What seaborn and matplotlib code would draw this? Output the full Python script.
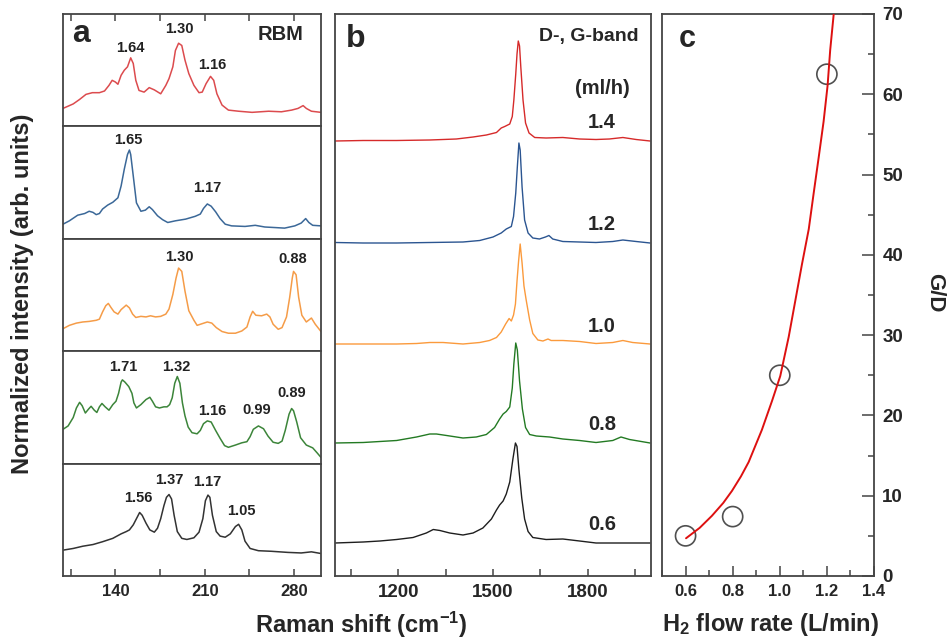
import numpy as np
import matplotlib
matplotlib.use("Agg")
import matplotlib.pyplot as plt
import seaborn as sns
from matplotlib.ticker import MultipleLocator, FormatStrFormatter

# ---- panel a : RBM spectra (shift in cm-1, intensity in arb. units) ----
rbm_red_x = [99, 107, 112, 117, 122, 127.5, 131.5, 135, 137.5, 140, 142, 144.5, 147, 149.5, 152, 154, 156, 158.5,
             162.5, 166.5, 170.5, 175.5, 179.5, 182, 185, 187, 189.5, 192, 194.5, 197.5, 201.5, 205.5, 208, 211,
             214.5, 217, 219.5, 223.5, 228.5, 236.5, 247, 260, 270, 278, 283, 287, 289.5, 293.5, 301]
rbm_red_y = [16, 20, 24, 28.5, 30, 30, 31.5, 36.5, 41, 39.5, 37.5, 45.5, 50, 53, 61, 56, 41, 32, 30.5, 34.5, 32.5,
             29, 36.5, 42.5, 53, 67.5, 74, 72, 59, 47, 36.5, 30, 30.5, 38, 44.5, 41, 29, 19, 14.5, 13.5, 12.5, 13.5,
             13, 14.5, 16, 18.5, 16, 13.5, 12.5]

rbm_blue_x = [99, 104, 110.5, 116, 119.5, 122.5, 125, 127.5, 130, 134, 138, 142, 144.5, 147, 149.5, 151, 152, 154,
              156.5, 160, 163.5, 166.5, 169, 173, 177, 181, 187, 195, 202.5, 206.5, 209, 212, 215, 218.5, 222, 226,
              231, 241.5, 249.5, 257, 265, 272.5, 280.5, 285.5, 289, 291.5, 294.5, 301]
rbm_blue_y = [13, 16, 21, 22.5, 24.5, 23.5, 21.5, 22.5, 26.5, 30, 32.5, 36.5, 47, 62, 75, 79, 75, 56, 32, 24.5,
              25.5, 28.5, 26, 20.5, 17, 14.5, 16, 17.5, 20, 22, 27, 31, 29, 24, 18, 13, 11.5, 11, 12, 10.5, 10, 9.5,
              11.5, 14, 18, 14.5, 12, 11.5]

rbm_orange_x = [99, 104, 109.5, 114.5, 119.5, 125, 127.5, 130, 132.5, 134.5, 136.5, 139, 142, 144.5, 148.5, 151,
                153.5, 156, 160, 164, 167.5, 171.5, 175.5, 179.5, 182, 185, 187.5, 189.5, 192, 194.5, 197.5, 201.5,
                204, 208, 212, 215.5, 219, 223.5, 228.5, 234, 239, 243, 245.5, 247.5, 250, 254.5, 258.5, 261,
                263.5, 267.5, 270.5, 274, 276.5, 278.5, 279.5, 281.5, 283.5, 286, 289.5, 293.5, 296.5, 301]
rbm_orange_y = [20, 23, 25, 26, 26.5, 27.5, 28.5, 35, 40.5, 42.5, 39, 35, 33, 37, 41, 38.5, 33, 30, 31, 30.5, 31.5,
                30.5, 31, 33, 37.5, 50.5, 65, 74, 71, 53.5, 36, 27.5, 23, 24.5, 26, 25, 21, 17.5, 16, 16, 18, 21.5,
                30.5, 35.5, 32, 31.5, 33, 30.5, 24, 19.5, 21, 30.5, 48, 65, 71, 68, 48, 32, 26, 29.5, 24, 17.5]

rbm_green_x = [99, 103, 107, 109.5, 112, 114, 116.5, 119, 121, 123.5, 125.5, 127.5, 129.5, 132, 135, 138, 140.5,
               142.5, 144.5, 145.5, 147.5, 150.5, 153, 154.5, 156.5, 160, 164, 167, 169, 171.5, 174.5, 178, 180.5,
               182.5, 184.5, 186.5, 188.5, 190.5, 192.5, 194.5, 197, 200, 204, 206.5, 209, 212, 215, 218.5, 222,
               225.5, 228.5, 234, 239, 243, 245.5, 248, 252, 256, 259.5, 263.5, 267.5, 270.5, 273, 276, 278,
               279.5, 282, 285, 289.5, 294.5, 298, 301]
rbm_green_y = [30.5, 33.5, 41, 49.5, 54.5, 51.5, 45, 48.5, 51, 47.5, 45.5, 50.5, 53.5, 50.5, 47.5, 52.5, 55.5,
               62.5, 72.5, 74.5, 72.5, 68.5, 62.5, 54, 49.5, 52.5, 57, 59, 55.5, 50.5, 49.5, 50.5, 50.5, 52.5, 58.5,
               71.5, 77.5, 71.5, 54, 42.5, 32.5, 27.5, 26.5, 29.5, 35.5, 38, 37, 29.5, 22.5, 16, 14.5, 16.5, 18.5,
               19.5, 24, 30.5, 33.5, 31, 24.5, 19, 18, 20, 29.5, 44, 49, 47, 37, 23, 16.5, 14, 9.5, 5.5]

rbm_black_x = [99, 107, 114.5, 122.5, 130, 138, 144.5, 148.5, 151, 154, 156.5, 159, 161, 164, 167, 170.5, 173,
               175.5, 178, 180, 182, 184, 186, 188.5, 192, 196, 201.5, 205.5, 208.5, 210.5, 212.5, 214, 216, 219,
               222, 226, 230, 234, 236.5, 239, 241.5, 245.5, 252, 262, 275, 285.5, 293.5, 301]
rbm_black_y = [23, 24.5, 26.5, 28, 30.5, 33.5, 37.5, 39.5, 41, 45.5, 51, 56.5, 54, 47, 41, 39, 42.5, 51, 62.5, 70,
               72.5, 68.5, 54, 39.5, 33.5, 32.5, 34, 39, 51, 67, 72, 70, 54, 39.5, 35.5, 34.5, 37.5, 44, 46, 41, 31,
               24.5, 22.5, 22, 21, 20.5, 21.5, 20]

# diameter labels (nm) for each RBM panel: text, shift, intensity
rbm_labels = [
    [("1.64", 152, 70), ("1.30", 190, 87), ("1.16", 216, 55)],
    [("1.65", 150, 87.5), ("1.17", 212, 45.5)],
    [("1.30", 190, 84), ("0.88", 279, 82)],
    [("1.71", 146, 86), ("1.32", 188, 86), ("1.16", 216, 47), ("0.99", 251, 47.5), ("0.89", 278, 63)],
    [("1.56", 158, 69), ("1.37", 182, 85), ("1.17", 212, 84), ("1.05", 239, 58)],
]

# ---- panel b : D-, G-band spectra (normalized) ----
flow_labels = ["1.4", "1.2", "1.0", "0.8", "0.6"]
dg_red_x = [1000, 1089, 1195, 1300, 1384, 1437, 1479, 1511, 1526, 1537, 1553, 1561, 1566, 1572, 1576, 1580, 1584,
            1588, 1595, 1603, 1614, 1632, 1668, 1721, 1774, 1826, 1868, 1911, 1953, 1997]
dg_red_y = [0, 0.005, 0.005, 0.01, 0.02, 0.04, 0.06, 0.085, 0.13, 0.145, 0.17, 0.245, 0.41, 0.67, 0.87, 1.0, 0.95,
            0.74, 0.41, 0.18, 0.08, 0.035, 0.03, 0.035, 0.02, 0.015, 0.02, 0.035, 0.015, 0.0]
dg_blue_x = [1000, 1089, 1195, 1300, 1405, 1458, 1500, 1526, 1542, 1558, 1565, 1572, 1577, 1582, 1586, 1592, 1600,
             1611, 1626, 1647, 1666, 1677, 1689, 1721, 1774, 1826, 1879, 1911, 1953, 1997]
dg_blue_y = [0.005, 0, 0, 0.005, 0.01, 0.025, 0.06, 0.1, 0.14, 0.165, 0.265, 0.5, 0.76, 1.0, 0.93, 0.56, 0.23, 0.1,
             0.05, 0.04, 0.06, 0.075, 0.04, 0.015, 0.01, 0.005, 0.015, 0.03, 0.015, 0]
dg_orange_x = [1000, 1089, 1195, 1258, 1300, 1342, 1405, 1458, 1489, 1511, 1526, 1540, 1551, 1558, 1565, 1571,
               1576, 1581, 1586, 1592, 1598, 1605, 1616, 1626, 1642, 1658, 1674, 1684, 1721, 1774, 1826, 1879,
               1911, 1942, 1997]
dg_orange_y = [0, 0, 0, 0.005, 0.015, 0.015, 0, 0.015, 0.035, 0.065, 0.12, 0.2, 0.255, 0.23, 0.29, 0.4, 0.63,
               0.83, 1.0, 0.81, 0.58, 0.44, 0.24, 0.105, 0.04, 0.03, 0.05, 0.035, 0.035, 0.025, 0.005, 0.015,
               0.035, 0.015, 0]
dg_green_x = [1000, 1089, 1195, 1258, 1300, 1321, 1353, 1405, 1447, 1479, 1505, 1521, 1532, 1542, 1553, 1561, 1566,
              1572, 1577, 1584, 1593, 1603, 1616, 1637, 1679, 1721, 1774, 1826, 1879, 1905, 1932, 1997]
dg_green_y = [0, 0.005, 0.025, 0.06, 0.09, 0.09, 0.075, 0.05, 0.06, 0.085, 0.155, 0.24, 0.29, 0.315, 0.36, 0.55,
              0.79, 1.0, 0.93, 0.62, 0.34, 0.155, 0.085, 0.07, 0.06, 0.04, 0.025, 0.005, 0.025, 0.06, 0.035, 0]
dg_black_x = [1000, 1089, 1142, 1195, 1247, 1289, 1311, 1332, 1363, 1405, 1437, 1468, 1495, 1511, 1521, 1532, 1542,
              1553, 1563, 1571, 1576, 1582, 1591, 1600, 1611, 1626, 1668, 1721, 1774, 1826, 1932, 1997]
dg_black_y = [0, 0.01, 0.02, 0.035, 0.055, 0.1, 0.135, 0.125, 0.1, 0.08, 0.1, 0.15, 0.24, 0.33, 0.38, 0.42, 0.49,
              0.61, 0.84, 1.0, 0.965, 0.735, 0.45, 0.24, 0.115, 0.055, 0.035, 0.04, 0.02, 0, 0, 0]

# ---- panel c : G/D ratio vs H2 flow ----
h2_flow = [0.6, 0.8, 1.0, 1.2]
gd_ratio = [5.0, 7.4, 25.0, 62.5]
fit_x = [0.602, 0.66, 0.712, 0.76, 0.797, 0.835, 0.868, 0.924, 0.967, 1.002, 1.038, 1.066, 1.094, 1.123, 1.144,
         1.165, 1.186, 1.203, 1.214, 1.229]
fit_y = [4.7, 6.0, 7.5, 9.1, 10.6, 12.4, 14.2, 18.2, 21.8, 24.9, 29.8, 34.3, 38.8, 43.2, 47.7, 52.1, 56.6, 61.1,
         65.5, 70]

sns.set_style("ticks")
plt.rcParams['font.family'] = ['Liberation Sans', 'DejaVu Sans']
plt.rcParams['font.weight'] = 'bold'
plt.rcParams['mathtext.fontset'] = 'custom'
plt.rcParams['mathtext.rm'] = 'Liberation Sans:bold'
plt.rcParams['mathtext.bf'] = 'Liberation Sans:bold'
plt.rcParams['mathtext.default'] = 'rm'

spine_c = '#444444'
W, H = 949, 643
fig = plt.figure(figsize=(9.49, 6.43), dpi=100)


def rect(x0, y0, x1, y1):
    return [x0 / W, 1 - y1 / H, (x1 - x0) / W, (y1 - y0) / H]


def style_axes(ax):
    for s in ax.spines.values():
        s.set_color(spine_c)
        s.set_linewidth(1.3)
    ax.set_xlabel('')
    ax.set_ylabel('')


# panel a
rbm_sets = [(rbm_red_x, rbm_red_y, '#dc4b4e'), (rbm_blue_x, rbm_blue_y, '#3b6898'),
            (rbm_orange_x, rbm_orange_y, '#f59c48'), (rbm_green_x, rbm_green_y, '#3c853a'),
            (rbm_black_x, rbm_black_y, '#333333')]
top, bot = 14, 576
step = (bot - top) / 5
for i, (xs, ys, col) in enumerate(rbm_sets):
    ax = fig.add_axes(rect(63, top + i * step, 321, top + (i + 1) * step))
    sns.lineplot(x=xs, y=ys, ax=ax, color=col, lw=1.1)
    ax.set_xlim(99, 301)
    ax.set_ylim(0, 100)
    ax.set_yticks([])
    style_axes(ax)
    ax.xaxis.set_major_locator(MultipleLocator(70))
    ax.xaxis.set_minor_locator(MultipleLocator(35))
    ax.tick_params(axis='x', which='both', direction='in', length=5, width=1.1, color=spine_c,
                   top=(i == 0), bottom=(i == 4), labelbottom=(i == 4), labelsize=12, pad=6)
    for txt, lx, ly in rbm_labels[i]:
        ax.text(lx, ly, txt, ha='center', va='center', fontsize=10.5, fontweight='bold', color='#222222')
    if i == 0:
        ax.text(0.07, 0.82, 'a', transform=ax.transAxes, fontsize=23, fontweight='bold', ha='center', va='center')
        ax.text(0.845, 0.82, 'RBM', transform=ax.transAxes, fontsize=14.5, fontweight='bold', ha='center',
                va='center')

# panel b
axb = fig.add_axes(rect(335, 14, 651, 576))
dg_sets = [(dg_red_x, dg_red_y, '#d62a2a', 4.35), (dg_blue_x, dg_blue_y, '#2b5591', 3.33),
           (dg_orange_x, dg_orange_y, '#fb9a3c', 2.32), (dg_green_x, dg_green_y, '#237a23', 1.33),
           (dg_black_x, dg_black_y, '#1e1e1e', 0.33)]
for xs, ys, col, off in dg_sets:
    sns.lineplot(x=xs, y=np.array(ys) + off, ax=axb, color=col, lw=1.0)
axb.set_xlim(1000, 2000)
axb.set_ylim(0, 5.62)
axb.set_yticks([])
style_axes(axb)
axb.set_xticks([1200, 1500, 1800])
axb.set_xticks([1050, 1350, 1650, 1950], minor=True)
axb.tick_params(axis='x', which='both', direction='in', length=5, width=1.1, color=spine_c, labelsize=13.5, pad=6)
axb.text(0.065, 0.955, 'b', transform=axb.transAxes, fontsize=23, fontweight='bold', ha='center', va='center')
axb.text(0.96, 0.96, 'D-, G-band', transform=axb.transAxes, fontsize=14, fontweight='bold', ha='right',
         va='center')
axb.text(0.845, 0.868, '(ml/h)', transform=axb.transAxes, fontsize=14.5, fontweight='bold', ha='center',
         va='center')
for lab, (_, _, _, off) in zip(flow_labels, dg_sets):
    axb.text(1845, off + 0.18, lab, fontsize=14.5, fontweight='bold', ha='center', va='center')

# panel c
axc = fig.add_axes(rect(662, 14, 874, 576))
sns.lineplot(x=fit_x, y=fit_y, ax=axc, color='#dd1010', lw=1.4, zorder=3)
sns.scatterplot(x=h2_flow, y=gd_ratio, ax=axc, marker='o', s=210, facecolor='none', edgecolor='#505050',
                linewidth=1.2, zorder=2)
axc.set_xlim(0.5, 1.4)
axc.set_ylim(0, 70)
style_axes(axc)
axc.set_xticks([0.6, 0.8, 1.0, 1.2, 1.4])
axc.set_xticks([0.5, 0.7, 0.9, 1.1, 1.3], minor=True)
axc.xaxis.set_major_formatter(FormatStrFormatter('%.1f'))
axc.yaxis.set_major_locator(MultipleLocator(10))
axc.yaxis.set_minor_locator(MultipleLocator(5))
axc.tick_params(axis='x', which='major', direction='in', length=7, width=1.1, color=spine_c, labelsize=12,
                pad=6)
axc.tick_params(axis='x', which='minor', direction='in', length=4, width=1.1, color=spine_c)
axc.tick_params(axis='y', which='both', direction='in', left=False, right=True, labelleft=False,
                labelright=True, color=spine_c, width=1.1, labelsize=13.5, pad=6)
axc.tick_params(axis='y', which='major', length=9)
axc.tick_params(axis='y', which='minor', length=4)
axc.text(0.12, 0.955, 'c', transform=axc.transAxes, fontsize=22, fontweight='bold', ha='center', va='center')

# shared labels
fig.text(23 / W, 1 - 294 / H, 'Normalized intensity (arb. units)', rotation=90, fontsize=17, fontweight='bold',
         ha='center', va='center')
fig.text(361 / W, 1 - 625 / H, r'Raman shift (cm$^{-1}$)', fontsize=17, fontweight='bold', ha='center',
         va='center')
fig.text(771 / W, 1 - 625 / H, r'H$_2$ flow rate (L/min)', fontsize=17, fontweight='bold', ha='center',
         va='center')
fig.text(935 / W, 1 - 293 / H, 'G/D', rotation=270, fontsize=16, fontweight='bold', ha='center', va='center')

fig.savefig('out.png', dpi=100)
